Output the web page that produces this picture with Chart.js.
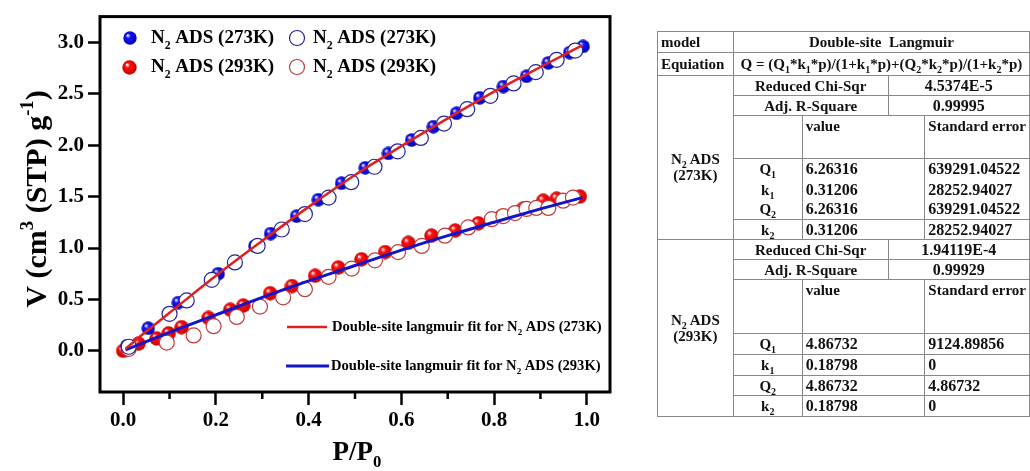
<!DOCTYPE html>
<html>
<head>
<meta charset="utf-8">
<script src="https://cdn.jsdelivr.net/npm/chart.js@4.4.0/dist/chart.umd.min.js"></script>
<style>
  body { margin: 0; background: #fff; }
  #wrap { position: relative; width: 1030px; height: 471px; overflow: hidden; }
  #chart { position: absolute; left: 0; top: 0; }
  #params {
    position: absolute; left: 657px; top: 31px;
    border-collapse: collapse; table-layout: fixed;
    font-family: "Liberation Serif", "Times New Roman", serif;
    font-weight: bold; font-size: 15px; color: #111; line-height: 16px;
  }
  #params td { border: 1px solid #888; padding: 0 3px; white-space: nowrap; overflow: hidden; vertical-align: middle; }
  #params td.c { text-align: center; }
  #params td.n { font-size: 16px; }
  #params td.top { vertical-align: top; padding-top: 2px; }
  #params td.grp { text-align: center; padding-top: 18px; }
  #params td.nb { border-bottom: none; }
  #params td.nt { border-top: none; }
  #params td.eq { padding: 0; }
  sub, sup { font-size: 10px; line-height: 0; }
</style>
</head>
<body>
<div id="wrap">
  <canvas id="chart" width="1030" height="471"></canvas>
  <table id="params">
    <colgroup>
      <col style="width:76px"><col style="width:69px"><col style="width:86px"><col style="width:37px"><col style="width:103px">
    </colgroup>
    <tr style="height:21px"><td>model</td><td class="c" colspan="4">Double-site&nbsp; Langmuir</td></tr>
    <tr style="height:23px"><td>Equiation</td><td class="c eq" colspan="4">Q = (Q<sub>1</sub>*k<sub>1</sub>*p)/(1+k<sub>1</sub>*p)+(Q<sub>2</sub>*k<sub>2</sub>*p)/(1+k<sub>2</sub>*p)</td></tr>
    <tr style="height:20px"><td class="grp" rowspan="7">N<sub>2</sub> ADS<br>(273K)</td><td class="c" colspan="2">Reduced Chi-Sqr</td><td class="c n" colspan="2">4.5374E-5</td></tr>
    <tr style="height:20px"><td class="c" colspan="2">Adj. R-Square</td><td class="c n" colspan="2">0.99995</td></tr>
    <tr style="height:43px"><td></td><td class="top" colspan="2">value</td><td class="top">Standard error</td></tr>
    <tr style="height:21px"><td class="c nb">Q<sub>1</sub></td><td class="n nb" colspan="2">6.26316</td><td class="n nb">639291.04522</td></tr>
    <tr style="height:20px"><td class="c nb nt">k<sub>1</sub></td><td class="n nb nt" colspan="2">0.31206</td><td class="n nb nt">28252.94027</td></tr>
    <tr style="height:20px"><td class="c nt">Q<sub>2</sub></td><td class="n nt" colspan="2">6.26316</td><td class="n nt">639291.04522</td></tr>
    <tr style="height:20px"><td class="c">k<sub>2</sub></td><td class="n" colspan="2">0.31206</td><td class="n">28252.94027</td></tr>
    <tr style="height:20px"><td class="grp" rowspan="7" style="padding-top:0">N<sub>2</sub> ADS<br>(293K)</td><td class="c" colspan="2">Reduced Chi-Sqr</td><td class="c n" colspan="2">1.94119E-4</td></tr>
    <tr style="height:20px"><td class="c" colspan="2">Adj. R-Square</td><td class="c n" colspan="2">0.99929</td></tr>
    <tr style="height:54px"><td></td><td class="top" colspan="2">value</td><td class="top">Standard error</td></tr>
    <tr style="height:21px"><td class="c">Q<sub>1</sub></td><td class="n" colspan="2">4.86732</td><td class="n">9124.89856</td></tr>
    <tr style="height:21px"><td class="c">k<sub>1</sub></td><td class="n" colspan="2">0.18798</td><td class="n">0</td></tr>
    <tr style="height:20px"><td class="c">Q<sub>2</sub></td><td class="n" colspan="2">4.86732</td><td class="n">4.86732</td></tr>
    <tr style="height:21px"><td class="c">k<sub>2</sub></td><td class="n" colspan="2">0.18798</td><td class="n">0</td></tr>
  </table>
</div>
<script>
const serif = '"Liberation Serif", "Times New Roman", serif';

// N2 adsorption at 273K (filled / open symbols)
const ads273X = [0.008, 0.054, 0.119, 0.205, 0.284, 0.318, 0.374, 0.421, 0.471, 0.522, 0.572, 0.622, 0.669, 0.719, 0.769, 0.82, 0.87, 0.917, 0.963, 0.992];
const ads273Y = [0.05, 0.22, 0.47, 0.75, 1.02, 1.14, 1.31, 1.47, 1.63, 1.78, 1.92, 2.05, 2.18, 2.31, 2.46, 2.57, 2.67, 2.80, 2.90, 2.96];
const open273X = [0.012, 0.10, 0.137, 0.191, 0.241, 0.29, 0.342, 0.392, 0.443, 0.492, 0.542, 0.592, 0.642, 0.692, 0.742, 0.792, 0.842, 0.89, 0.935, 0.975];
const open273Y = [0.04, 0.36, 0.49, 0.69, 0.86, 1.02, 1.18, 1.33, 1.49, 1.64, 1.79, 1.94, 2.07, 2.21, 2.35, 2.48, 2.60, 2.71, 2.83, 2.92];

// N2 adsorption at 293K
const ads293X = [0.0, 0.033, 0.072, 0.098, 0.126, 0.184, 0.231, 0.259, 0.317, 0.364, 0.414, 0.464, 0.514, 0.565, 0.615, 0.665, 0.716, 0.766, 0.816, 0.862, 0.906, 0.935, 0.985];
const ads293Y = [0.0, 0.07, 0.12, 0.17, 0.23, 0.32, 0.40, 0.44, 0.56, 0.63, 0.73, 0.81, 0.89, 0.96, 1.05, 1.12, 1.17, 1.24, 1.31, 1.38, 1.46, 1.48, 1.50];
const open293X = [0.012, 0.094, 0.152, 0.195, 0.245, 0.295, 0.345, 0.392, 0.443, 0.493, 0.543, 0.593, 0.644, 0.694, 0.744, 0.795, 0.82, 0.845, 0.87, 0.891, 0.917, 0.949, 0.97];
const open293Y = [0.02, 0.08, 0.15, 0.24, 0.33, 0.43, 0.52, 0.60, 0.72, 0.80, 0.88, 0.96, 1.02, 1.12, 1.20, 1.28, 1.31, 1.34, 1.38, 1.39, 1.39, 1.46, 1.49];

// double-site Langmuir fit curves
const fitX = [0.005, 0.05, 0.1, 0.2, 0.3, 0.4, 0.5, 0.6, 0.7, 0.8, 0.9, 0.99];
const fit273Y = [0.02, 0.19, 0.37, 0.73, 1.07, 1.40, 1.71, 1.99, 2.26, 2.52, 2.76, 2.97];
const fit293Y = [0.01, 0.09, 0.18, 0.35, 0.52, 0.68, 0.83, 0.98, 1.12, 1.25, 1.38, 1.49];

// axis ticks
const xTicks = [0, 0.2, 0.4, 0.6, 0.8, 1.0];
const xMinorTicks = [0.1, 0.3, 0.5, 0.7, 0.9];
const yTicks = [0, 0.5, 1.0, 1.5, 2.0, 2.5, 3.0];

function toPoints(xs, ys) {
  return xs.map((x, i) => ({ x: x, y: ys[i] }));
}

// shaded ball used for the filled symbols
function makeSphere(base, dark, d) {
  const c = document.createElement("canvas");
  c.width = c.height = d;
  const g = c.getContext("2d");
  const r = d / 2;
  const grad = g.createRadialGradient(r * 0.65, r * 0.6, 0.3, r, r, r);
  grad.addColorStop(0, "#ffffff");
  grad.addColorStop(0.3, base);
  grad.addColorStop(1, dark);
  g.fillStyle = grad;
  g.beginPath();
  g.arc(r, r, r - 0.3, 0, Math.PI * 2);
  g.fill();
  return c;
}

const blueBall = makeSphere("#1515ff", "#0000b0", 14);
const redBall = makeSphere("#ff1010", "#c80000", 15);

// text with sub/superscripts
function richWidth(ctx, parts, size) {
  let w = 0;
  parts.forEach(([t, m]) => {
    ctx.font = "bold " + (m ? size * 0.62 : size) + "px " + serif;
    w += ctx.measureText(t).width;
  });
  return w;
}

function drawRich(ctx, parts, x, cy, size, align) {
  let cx = align === "center" ? x - richWidth(ctx, parts, size) / 2 : x;
  const base = cy + size * 0.33;
  ctx.textBaseline = "alphabetic";
  ctx.textAlign = "left";
  parts.forEach(([t, m]) => {
    ctx.font = "bold " + (m ? size * 0.62 : size) + "px " + serif;
    const dy = m === "sub" ? size * 0.28 : m === "sup" ? -size * 0.42 : 0;
    ctx.fillText(t, cx, base + dy);
    cx += ctx.measureText(t).width;
  });
}

function openCircle(ctx, x, y, color) {
  ctx.beginPath();
  ctx.arc(x, y, 7.5, 0, Math.PI * 2);
  ctx.fillStyle = "#fff";
  ctx.fill();
  ctx.lineWidth = 1.2;
  ctx.strokeStyle = color;
  ctx.stroke();
}

const decorPlugin = {
  id: "decor",
  afterDraw(chart) {
    const { ctx, chartArea: a, scales } = chart;
    ctx.save();
    ctx.strokeStyle = "#000";
    ctx.lineWidth = 2.5;
    xMinorTicks.forEach((v) => {
      const px = scales.x.getPixelForValue(v);
      ctx.beginPath();
      ctx.moveTo(px, a.bottom);
      ctx.lineTo(px, a.bottom + 7);
      ctx.stroke();
    });
    ctx.lineWidth = 3;
    ctx.strokeRect(a.left, a.top, a.right - a.left, a.bottom - a.top);

    // symbol legend
    ctx.fillStyle = "#000";
    ctx.drawImage(blueBall, 123, 31);
    ctx.drawImage(redBall, 122, 60);
    openCircle(ctx, 297, 38, "#24249a");
    openCircle(ctx, 297, 67, "#c03a3a");
    ctx.fillStyle = "#000";
    drawRich(ctx, [["N", ""], ["2", "sub"], [" ADS (273K)", ""]], 151, 37, 19);
    drawRich(ctx, [["N", ""], ["2", "sub"], [" ADS (273K)", ""]], 313, 37, 19);
    drawRich(ctx, [["N", ""], ["2", "sub"], [" ADS (293K)", ""]], 151, 66, 19);
    drawRich(ctx, [["N", ""], ["2", "sub"], [" ADS (293K)", ""]], 313, 66, 19);

    // fit legend
    ctx.lineWidth = 2.5;
    ctx.strokeStyle = "#e02020";
    ctx.beginPath(); ctx.moveTo(287, 327); ctx.lineTo(327, 327); ctx.stroke();
    ctx.lineWidth = 3;
    ctx.strokeStyle = "#1414c8";
    ctx.beginPath(); ctx.moveTo(286, 366); ctx.lineTo(329, 366); ctx.stroke();
    drawRich(ctx, [["Double-site langmuir fit for N", ""], ["2", "sub"], [" ADS (273K)", ""]], 332, 326, 14.6);
    drawRich(ctx, [["Double-site langmuir fit for N", ""], ["2", "sub"], [" ADS (293K)", ""]], 331, 365, 14.6);

    // axis titles
    drawRich(ctx, [["P/P", ""], ["0", "sub"]], 357, 451, 27, "center");
    ctx.translate(36, 199);
    ctx.rotate(-Math.PI / 2);
    drawRich(ctx, [["V (cm", ""], ["3", "sup"], [" (STP) g", ""], ["-1", "sup"], [")", ""]], 0, 0, 30, "center");
    ctx.restore();
  },
};

const tickFont = { family: serif, size: 21, weight: "bold" };

new Chart(document.getElementById("chart"), {
  type: "scatter",
  data: {
    datasets: [
      {
        label: "fit 273K",
        data: toPoints(fitX, fit273Y),
        showLine: true,
        borderColor: "#e02020",
        borderWidth: 2.5,
        pointRadius: 0,
        cubicInterpolationMode: "monotone",
        order: 0,
      },
      {
        label: "fit 293K",
        data: toPoints(fitX, fit293Y),
        showLine: true,
        borderColor: "#1414c8",
        borderWidth: 3,
        pointRadius: 0,
        cubicInterpolationMode: "monotone",
        order: 0,
      },
      {
        label: "open 273K",
        data: toPoints(open273X, open273Y),
        pointRadius: 7.5,
        pointBorderWidth: 1.2,
        pointBorderColor: "#24249a",
        pointBackgroundColor: "#ffffff",
        order: 1,
      },
      {
        label: "open 293K",
        data: toPoints(open293X, open293Y),
        pointRadius: 7.5,
        pointBorderWidth: 1.2,
        pointBorderColor: "#c03a3a",
        pointBackgroundColor: "#ffffff",
        order: 1,
      },
      {
        label: "N2 ADS (273K)",
        data: toPoints(ads273X, ads273Y),
        pointStyle: blueBall,
        pointRadius: 7,
        order: 2,
      },
      {
        label: "N2 ADS (293K)",
        data: toPoints(ads293X, ads293Y),
        pointStyle: redBall,
        pointRadius: 7,
        order: 3,
      },
    ],
  },
  options: {
    responsive: false,
    animation: false,
    devicePixelRatio: 1,
    layout: { padding: { left: 0, top: 15, right: 420, bottom: 0 } },
    plugins: { legend: { display: false }, tooltip: { enabled: false } },
    scales: {
      x: {
        type: "linear",
        min: -0.05,
        max: 1.05,
        afterBuildTicks: (s) => { s.ticks = xTicks.map((v) => ({ value: v })); },
        afterFit: (s) => { s.height = 79; },
        ticks: { font: tickFont, color: "#000", padding: 3, maxRotation: 0, callback: (v) => v.toFixed(1) },
        grid: { drawOnChartArea: false, tickLength: 13, tickWidth: 2.5, tickColor: "#000" },
        border: { display: false },
      },
      y: {
        type: "linear",
        min: -0.4,
        max: 3.25,
        afterBuildTicks: (s) => { s.ticks = yTicks.map((v) => ({ value: v })); },
        afterFit: (s) => { s.width = 100; },
        ticks: { font: tickFont, color: "#000", padding: 4, callback: (v) => v.toFixed(1) },
        grid: { drawOnChartArea: false, tickLength: 12, tickWidth: 2.5, tickColor: "#000" },
        border: { display: false },
      },
    },
  },
  plugins: [decorPlugin],
});
</script>
</body>
</html>
